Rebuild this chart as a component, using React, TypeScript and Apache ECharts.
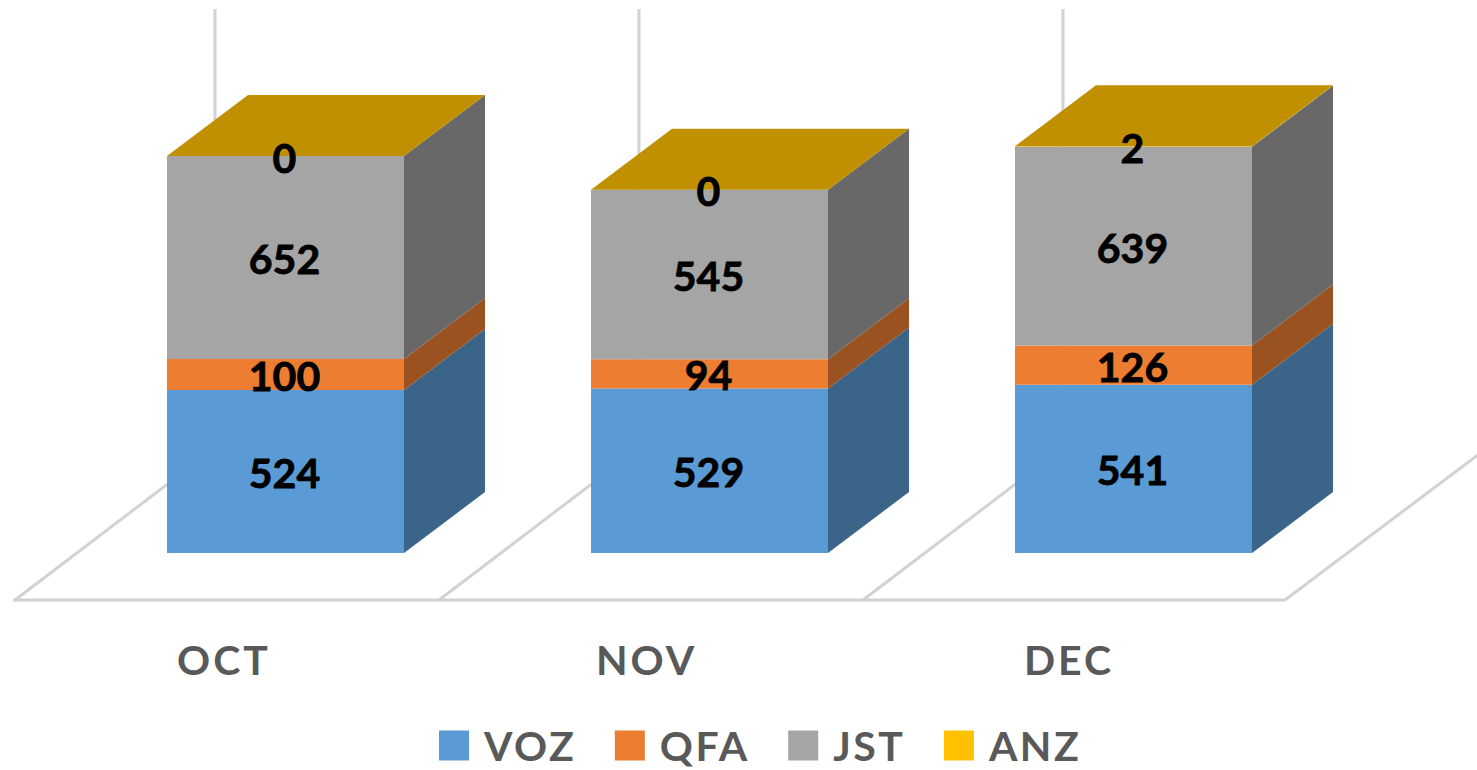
import React, { useEffect, useRef } from "react";
import * as echarts from "echarts";

const categories = ["OCT", "NOV", "DEC"];
const VOZ = [524, 529, 541];
const QFA = [100, 94, 126];
const JST = [652, 545, 639];
const ANZ = [0, 0, 2];

const FONT = "Lato";
const AXIS_MAX = 1900;
// oblique projection of the 3D chart, in pixels
const DX = 81;
const DY = 61;
const BAR_LEFT = -58;
const BAR_WIDTH = 237;
const LIFT = 47;
const BACK_X = 202;
const BACK_Y = 152;
const FLOOR_COLOR = "#d2d2d2";

const seriesDefs = [
  { name: "VOZ", values: VOZ, color: "#5b9bd5", side: "#3a6488", top: "#3a6488" },
  { name: "QFA", values: QFA, color: "#ed7d31", side: "#9a5320", top: "#9a5320" },
  { name: "JST", values: JST, color: "#a5a5a5", side: "#686868", top: "#686868" },
  { name: "ANZ", values: ANZ, color: "#ffc000", side: "#a67d00", top: "#c09000" },
];

function buildBarSeries() {
  const base = categories.map(() => 0);
  return seriesDefs.map((def, si) => {
    const data = def.values.map((v, i) => {
      const item = [i, base[i], base[i] + v, v];
      base[i] += v;
      return item;
    });
    const isLast = si === seriesDefs.length - 1;
    return {
      type: "custom",
      name: def.name,
      coordinateSystem: "cartesian2d",
      itemStyle: { color: def.color },
      z: 5,
      data,
      encode: { x: 0, y: [1, 2] },
      renderItem: (_: any, api: any) => {
        const i = api.value(0);
        const lo = api.coord([i, api.value(1)]);
        const hi = api.coord([i, api.value(2)]);
        const x0 = lo[0] + BAR_LEFT;
        const x1 = x0 + BAR_WIDTH;
        const yb = lo[1] - LIFT;
        const yt = hi[1] - LIFT;
        const children: any[] = [
          {
            type: "polygon",
            shape: { points: [[x1, yb], [x1 + DX, yb - DY], [x1 + DX, yt - DY], [x1, yt]] },
            style: { fill: def.side },
            z2: 1,
          },
          {
            type: "rect",
            shape: { x: x0, y: yt, width: BAR_WIDTH, height: yb - yt },
            style: { fill: def.color },
            z2: 1,
          },
        ];
        if (isLast) {
          children.push({
            type: "polygon",
            shape: { points: [[x0, yt], [x1, yt], [x1 + DX, yt - DY], [x0 + DX, yt - DY]] },
            style: { fill: def.top },
            z2: 2,
          });
        }
        children.push({
          type: "text",
          z2: 10,
          style: {
            x: x0 + BAR_WIDTH / 2 - 1,
            y: (yb + yt) / 2 + 1,
            text: String(api.value(3)),
            fill: "#000000",
            stroke: "#000000",
            lineWidth: 0.8,
            font: `bold 41px ${FONT}`,
            textAlign: "center",
            textVerticalAlign: "middle",
          },
        });
        return { type: "group", children };
      },
    };
  });
}

const floorSeries = {
  type: "custom",
  name: "floor",
  coordinateSystem: "cartesian2d",
  z: 1,
  silent: true,
  data: categories.map((_, i) => [i]),
  encode: { x: 0 },
  renderItem: (_: any, api: any) => {
    const i = api.value(0);
    const c = api.coord([i, 0]);
    const wallTop = api.coord([i, AXIS_MAX]);
    const w = api.size([1, 0])[0];
    const xl = c[0] - w / 2;
    const xr = c[0] + w / 2;
    const line = { stroke: FLOOR_COLOR, lineWidth: 3, fill: "none" };
    const children: any[] = [
      { type: "line", shape: { x1: xl, y1: c[1], x2: xr, y2: c[1] }, style: line },
      { type: "line", shape: { x1: xl + 2, y1: c[1], x2: xl + BACK_X, y2: c[1] - BACK_Y }, style: line },
      { type: "line", shape: { x1: xl + BACK_X, y1: c[1] - BACK_Y, x2: xl + BACK_X, y2: wallTop[1] }, style: line },
    ];
    if (i === categories.length - 1) {
      children.push({
        type: "line",
        shape: { x1: xr, y1: c[1], x2: xr + BACK_X, y2: c[1] - BACK_Y },
        style: line,
      });
    }
    return { type: "group", children };
  },
};

export default function App() {
  const ref = useRef<HTMLDivElement>(null);
  useEffect(() => {
    const chart = echarts.init(ref.current!, null, { renderer: "svg" });
    chart.setOption({
      animation: false,
      backgroundColor: "#ffffff",
      grid: { left: 13, top: 9, width: 1272, height: 591 },
      xAxis: {
        type: "category",
        data: categories,
        axisLine: { show: false },
        axisTick: { show: false },
        axisLabel: { color: "#595959", fontFamily: FONT, fontWeight: "bold", fontSize: 41, margin: 39 },
      },
      yAxis: { type: "value", min: 0, max: AXIS_MAX, show: false, splitLine: { show: false } },
      legend: {
        data: seriesDefs.map((d) => d.name),
        left: 434,
        top: 720,
        icon: "rect",
        itemWidth: 30,
        itemHeight: 30,
        itemGap: 46,
        textStyle: { color: "#595959", fontFamily: FONT, fontWeight: "bold", fontSize: 41, padding: [0, 0, 0, 10] },
      },
      series: [floorSeries, ...buildBarSeries()],
    });
    // Wide tracking of the axis and legend texts, which the library has no option for.
    const root = chart.getDom();
    root.querySelectorAll("text").forEach((el: any) => {
      const t = el.textContent;
      const idx = categories.indexOf(t);
      if (idx >= 0) {
        el.style.letterSpacing = "3px";
        el.setAttribute("dx", String(-1 - idx * 1.5));
      } else if (seriesDefs.some((d) => d.name === t)) {
        el.style.letterSpacing = "2.5px";
      }
    });
    return () => chart.dispose();
  }, []);
  return <div ref={ref} style={{ position: "absolute", left: 0, top: 0, width: 1477, height: 770 }} />;
}
